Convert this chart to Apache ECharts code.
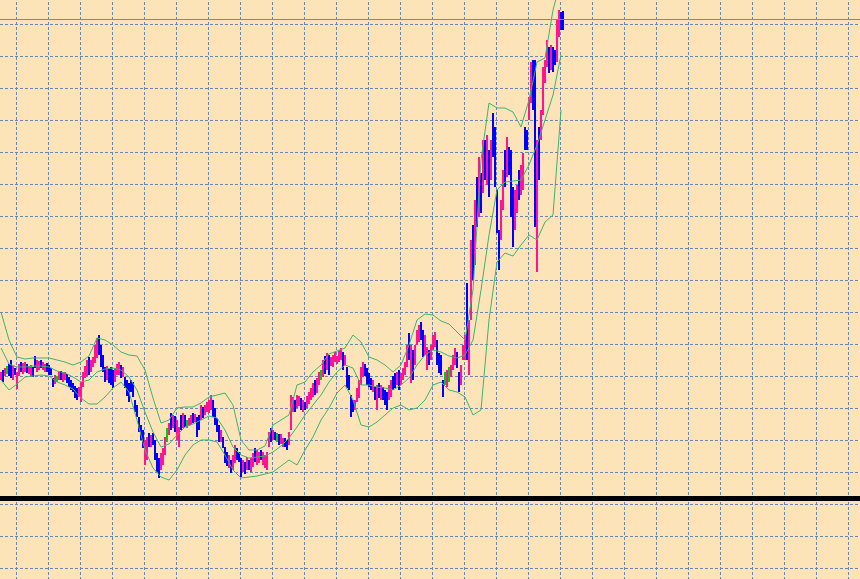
<!DOCTYPE html>
<html><head><meta charset="utf-8">
<script src="https://cdn.jsdelivr.net/npm/echarts@6/dist/echarts.min.js"></script>
<style>html,body{margin:0;padding:0;background:#FDE4B8;width:860px;height:579px;overflow:hidden;}#c{width:860px;height:608px;margin-top:-8px;}</style>
</head><body><div id="c"></div>
<script>
const opens = [222,227,226,230,233,236,223,230,215,227,236,229,230,234,228,226,231,241,231,232,238,232,230,235,233,230,220,218,221,222,227,220,222,224,221,218,215,211,209,205,203,217,225,228,239,231,235,241,247,260,250,241,229,223,227,229,226,221,228,228,232,225,220,216,212,217,214,197,192,179,171,166,141,146,163,156,164,155,142,137,134,139,150,165,168,183,175,180,165,158,181,176,182,176,176,177,185,180,178,181,184,190,187,190,190,194,196,188,178,171,161,160,149,145,135,137,134,141,149,146,137,131,135,133,138,131,136,149,139,140,148,138,135,134,157,168,162,166,162,163,158,155,160,157,158,175,191,197,195,196,199,191,196,195,199,203,206,216,211,218,225,227,240,234,240,236,236,240,238,241,243,244,237,228,221,200,197,192,201,206,219,227,233,228,223,219,211,210,196,213,204,210,206,204,204,207,220,223,218,225,218,223,228,238,260,226,243,240,259,262,274,263,250,236,246,244,254,257,254,242,240,216,221,217,225,226,234,239,244,223,220,244,246,298,239,300,361,351,411,398,417,420,450,428,438,430,476,458,399,360,370,400,441,433,446,433,398,380,394,422,412,419,467,465,486,507,528,498,361,460,468,497,523,540,546,536,547,546,549,570,584,585];
const closes = [226,221,230,230,227,226,231,227,224,233,230,234,236,229,232,232,225,235,237,237,234,236,234,230,227,227,215,223,221,226,222,226,226,219,215,212,210,205,203,211,213,224,231,236,229,237,241,251,257,250,238,232,222,231,221,219,216,229,233,235,225,231,215,208,203,211,207,191,186,172,164,156,154,157,157,162,158,145,133,127,143,148,159,165,174,174,182,172,175,168,174,183,176,176,180,183,179,184,168,174,191,185,193,196,197,201,187,179,172,162,167,155,141,137,142,130,141,151,143,140,128,137,129,140,132,139,144,141,146,145,142,145,142,144,164,162,168,162,162,158,164,160,155,152,165,200,200,191,202,202,193,197,192,201,205,209,214,209,218,225,225,236,230,243,230,241,242,246,242,247,249,234,243,217,214,188,191,198,209,216,229,234,227,219,217,213,217,203,209,206,211,203,199,194,211,216,214,216,225,215,224,229,235,250,247,246,228,250,266,271,264,250,260,247,239,251,261,264,241,232,230,207,221,226,225,232,241,248,236,213,230,251,259,259,266,340,334,384,385,428,397,447,430,452,415,450,454,428,378,340,390,420,422,453,432,400,368,400,408,408,428,438,456,455,497,528,502,415,427,433,483,521,534,553,533,549,534,539,570,583,575,581];
const lows = [220,218,224,226,224,222,220,225,211,224,228,226,228,227,226,223,223,232,228,230,232,230,228,228,225,225,213,216,218,220,220,218,220,217,213,210,208,202,200,203,198,213,222,224,225,228,233,237,242,245,233,228,218,220,217,215,212,218,225,225,222,223,212,204,198,208,203,188,183,168,160,152,135,140,153,153,155,140,128,122,130,135,145,158,165,170,172,168,160,153,170,172,173,172,174,175,177,178,163,170,180,182,185,188,187,190,183,175,168,158,158,152,137,134,132,127,130,137,140,138,123,128,126,130,130,128,133,138,135,137,140,135,132,130,153,158,160,160,158,155,156,153,153,150,155,170,188,188,192,194,190,188,190,192,196,200,203,205,207,215,220,223,226,230,225,234,233,238,236,238,240,230,235,212,210,183,188,190,198,202,215,223,224,215,213,210,208,200,190,202,200,200,195,190,200,203,210,212,215,210,215,220,225,233,240,217,220,235,255,258,260,243,245,230,235,240,250,253,235,227,225,203,215,213,218,223,230,235,232,208,215,240,240,240,225,280,320,335,373,383,387,407,420,415,403,420,443,413,367,330,360,390,413,423,425,383,353,370,387,400,405,410,450,450,480,497,490,373,328,420,460,485,517,533,527,530,528,535,538,563,570,570];
const highs = [228,230,232,234,236,240,234,232,228,236,238,237,238,236,234,235,233,244,240,239,240,238,236,237,235,232,222,225,224,228,229,228,228,226,223,220,217,214,212,213,218,228,234,240,243,240,243,255,262,265,255,245,233,234,231,233,230,232,236,238,235,233,223,220,217,220,218,200,195,183,175,170,160,163,167,165,167,160,147,142,147,152,163,172,177,187,185,184,180,173,185,187,185,180,182,185,187,186,183,185,195,193,195,198,200,205,200,192,182,175,170,163,153,148,145,140,145,155,152,148,142,140,138,143,140,142,147,152,150,148,150,148,145,148,168,172,170,168,167,166,166,162,162,160,168,205,203,200,205,204,202,200,198,204,208,212,217,220,222,228,230,240,244,247,245,243,245,248,244,250,252,248,245,233,225,205,200,200,212,220,233,238,236,232,227,222,220,213,215,217,215,213,210,208,215,220,224,227,228,230,227,232,238,255,267,255,250,255,270,275,278,270,265,253,250,255,265,268,260,247,245,220,228,230,233,235,245,252,248,228,235,255,265,317,280,360,375,400,423,443,427,460,460,465,450,460,487,473,410,370,400,430,450,463,453,450,413,410,415,430,435,447,473,470,503,538,540,540,460,473,490,533,540,560,553,555,553,550,580,590,588,589];

// Bollinger bands sampled every 4 bars (bar 0, 4, 8, ...)
const bandUpper = [288,260,243,241,242,242,242,240,238,235,238,244,262,260,255,248,245,244,230,202,177,180,192,193,193,197,203,205,207,195,160,150,150,154,175,180,185,215,218,228,235,246,249,252,265,258,243,240,235,228,235,255,280,286,285,279,276,268,260,310,440,497,492,492,488,473,500,538,542,590,620];
const bandMiddle = [252,236,233,233,234,234,233,229,227,223,218,220,228,231,232,230,223,210,188,168,153,156,165,173,176,180,184,182,170,153,145,142,143,144,148,154,162,173,185,195,205,218,228,235,232,215,215,213,212,210,215,222,235,245,250,248,244,242,245,260,310,365,410,418,419,420,435,455,480,505,545];
const bandLower = [220,210,216,223,224,225,224,218,215,211,202,196,196,203,212,218,208,180,150,132,123,120,130,145,155,160,160,158,145,130,122,123,124,126,128,134,140,135,150,163,180,192,207,215,200,175,173,178,185,192,195,190,192,200,215,218,210,208,203,185,190,280,338,347,344,355,365,360,378,385,490];

const levelLine = 102;
const nCat = 430;
const bandStep = 4;

const cats = Array.from({length: nCat}, (_, i) => String(i));
const barData = opens.map((o, i) => [i, o, closes[i], lows[i], highs[i]]);
function band(arr) {
  const out = new Array(nCat).fill(null);
  arr.forEach((v, k) => { out[k * bandStep] = v; });
  return out;
}
const lastClose = closes[closes.length - 1];
const UP = '#ff1493', DOWN = '#0000ff', DOJI = '#00d000';

function renderBar(params, api) {
  const i = api.value(0), o = api.value(1), c = api.value(2), l = api.value(3), h = api.value(4);
  const pHigh = api.coord([i, h]);
  const pLow = api.coord([i, l]);
  const x = Math.round(pHigh[0]);
  const color = c > o ? UP : (c < o ? DOWN : DOJI);
  return {
    type: 'line',
    shape: {x1: x, y1: Math.round(pHigh[1]), x2: x, y2: Math.round(pLow[1])},
    style: {stroke: color, lineWidth: 2}
  };
}

const chart = echarts.init(document.getElementById('c'), null, {renderer: 'canvas'});
const gridLine = {show: true, lineStyle: {color: '#6c87ad', width: 1, type: [3, 2]}};
const bandStyle = {color: '#3cb371', width: 1};
chart.setOption({
  animation: false,
  backgroundColor: '#FDE4B8',
  grid: {left: 0, right: 0, top: 0, bottom: 0},
  xAxis: {
    type: 'category', data: cats, boundaryGap: true,
    axisLine: {show: false}, axisTick: {show: false}, axisLabel: {show: false},
    splitLine: Object.assign({interval: (i) => i % 16 === 8}, gridLine)
  },
  yAxis: {
    type: 'value', min: 0, max: 608, interval: 32, scale: false,
    axisLine: {show: false}, axisTick: {show: false}, axisLabel: {show: false},
    splitLine: gridLine
  },
  series: [
    {type: 'line', data: band(bandUpper), connectNulls: true, showSymbol: false, symbol: 'none', lineStyle: bandStyle, silent: true},
    {type: 'line', data: band(bandMiddle), connectNulls: true, showSymbol: false, symbol: 'none', lineStyle: bandStyle, silent: true,
      markLine: {
        silent: true, symbol: 'none', label: {show: false}, animation: false,
        data: [
          {yAxis: levelLine, lineStyle: {color: '#000000', width: 5, type: 'solid'}},
          {yAxis: lastClose, lineStyle: {color: '#808890', width: 1, type: 'solid'}}
        ]
      }
    },
    {type: 'line', data: band(bandLower), connectNulls: true, showSymbol: false, symbol: 'none', lineStyle: bandStyle, silent: true},
    {
      type: 'custom', data: barData, renderItem: renderBar, silent: true,
      encode: {x: 0, y: [1, 2, 3, 4]}
    }
  ]
});
</script></body></html>
